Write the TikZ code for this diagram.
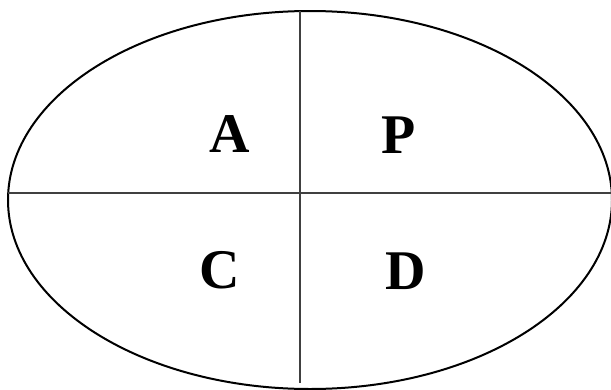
\documentclass[tikz,border=0pt]{standalone}
\usepackage{fontspec}
\setmainfont{Liberation Serif}
\begin{document}
\begin{tikzpicture}[x=1pt,y=-1pt,
  lbl/.style={font=\fontsize{56}{60}\selectfont\bfseries, inner sep=0pt},
  divider/.style={line width=1.1pt, draw=black!75},
  outline/.style={line width=2pt}]
\useasboundingbox (0,0) rectangle (611,389);
\begin{scope}
\clip (0,0) rectangle (611,389);
\draw[outline] (310,200) ellipse [x radius=302, y radius=189];
\end{scope}
\coordinate (top) at (300,11);
\coordinate (bot) at (300,383);
\coordinate (lft) at (8,193);
\coordinate (rgt) at (611,193);
\draw[divider] (top) -- (bot);
\draw[divider] (lft) -- (rgt);
\node[lbl] (a) at (230,134) {A};
\node[lbl] (p) at (399,135) {P};
\node[lbl] (c) at (220,270) {C};
\node[lbl] (d) at (406,271) {D};
\end{tikzpicture}
\end{document}
